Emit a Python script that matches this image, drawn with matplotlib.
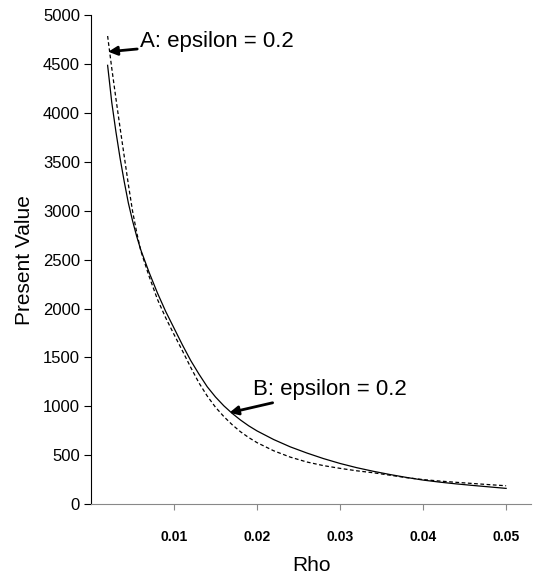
import matplotlib.pyplot as plt

plt.rcParams['font.family'] = ['Liberation Sans', 'DejaVu Sans']

rho = [0.002, 0.0025, 0.003, 0.0035, 0.004, 0.0045, 0.005, 0.0055, 0.006,
       0.007, 0.008, 0.009, 0.010, 0.011, 0.012, 0.013, 0.014, 0.015, 0.016,
       0.017, 0.018, 0.019, 0.020, 0.022, 0.024, 0.026, 0.028, 0.030, 0.032,
       0.034, 0.036, 0.038, 0.040, 0.042, 0.044, 0.046, 0.048, 0.050]
pv_solid = [4490, 4110, 3810, 3540, 3300, 3080, 2900, 2740, 2600,
            2370, 2160, 1970, 1800, 1630, 1470, 1330, 1200, 1095, 1005,
            928, 860, 800, 748, 660, 585, 522, 465, 415, 372,
            335, 302, 272, 245, 224, 206, 190, 175, 160]
pv_dashed = [4790, 4460, 4150, 3850, 3560, 3270, 3000, 2780, 2590,
             2330, 2095, 1905, 1735, 1570, 1400, 1240, 1105, 990, 895,
             812, 740, 680, 628, 545, 480, 430, 393, 365, 340,
             320, 295, 270, 250, 235, 222, 210, 198, 187]

xticks = [0.01, 0.02, 0.03, 0.04, 0.05]
yticks = list(range(0, 5001, 500))

fig = plt.figure(figsize=(5.36, 5.78), dpi=100)
ax = fig.add_axes([0.1698, 0.128, 0.8209, 0.8452])

ax.plot(rho, pv_solid, color='black', lw=0.9)
ax.plot(rho, pv_dashed, color='black', lw=0.9, linestyle=(0, (3, 2)))

ax.set_xlim(0, 0.053)
ax.set_ylim(0, 5000)
ax.set_xticks(xticks)
ax.set_xticklabels([f'{t:.2f}' for t in xticks], fontsize=10, fontweight='bold')
ax.set_yticks(yticks)
ax.set_yticklabels([str(t) for t in yticks], fontsize=12)

for s in ['top', 'right']:
    ax.spines[s].set_visible(False)
ax.spines['left'].set_color('black')
ax.spines['bottom'].set_color('#888888')
ax.tick_params(axis='y', direction='out', length=5, color='black', pad=3)
ax.tick_params(axis='x', direction='out', length=4, color='#888888', pad=15)

ax.set_xlabel('Rho', fontsize=15, labelpad=8)
ax.set_ylabel('Present Value', fontsize=15, labelpad=6)

arrow = dict(arrowstyle='-|>', color='black', lw=2, mutation_scale=13,
             shrinkA=0, shrinkB=0)
ax.annotate('A: epsilon = 0.2', xy=(0.00208, 4629), xytext=(0.0059, 4734),
            fontsize=16, va='center', ha='left', arrowprops=arrow)
ax.annotate('B: epsilon = 0.2', xy=(0.01666, 934), xytext=(0.01956, 1172),
            fontsize=16, va='center', ha='left', arrowprops=arrow)

fig.savefig('out.png', dpi=100)
